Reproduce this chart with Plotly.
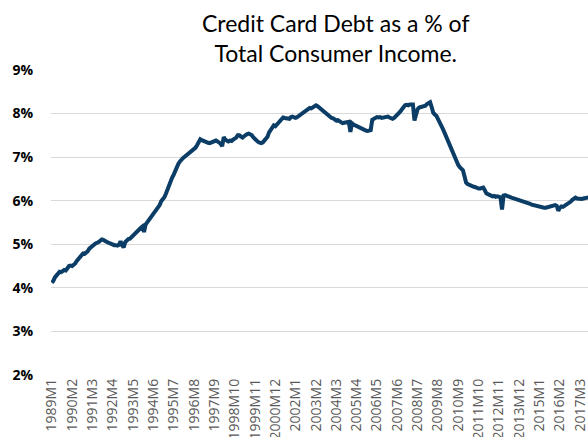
import plotly.graph_objects as go

# Credit card debt as a share of total consumer income, monthly from 1989M1
debt_pct = [
    # 1989
    4.12, 4.16, 4.24, 4.29, 4.33, 4.37, 4.36, 4.39, 4.41, 4.40, 4.46, 4.50,
    # 1990
    4.51, 4.50, 4.53, 4.56, 4.62, 4.67, 4.70, 4.74, 4.79, 4.78, 4.80, 4.84,
    # 1991
    4.90, 4.94, 4.96, 4.99, 5.02, 5.03, 5.05, 5.08, 5.11, 5.10, 5.07, 5.06,
    # 1992
    5.04, 5.02, 5.01, 5.00, 4.98, 4.98, 4.97, 4.99, 5.07, 4.98, 4.93, 5.05,
    # 1993
    5.10, 5.12, 5.13, 5.17, 5.19, 5.22, 5.27, 5.32, 5.35, 5.38, 5.41, 5.28,
    # 1994
    5.45, 5.50, 5.55, 5.62, 5.68, 5.71, 5.76, 5.80, 5.86, 5.90, 5.99, 6.03,
    # 1995
    6.08, 6.16, 6.27, 6.38, 6.45, 6.53, 6.60, 6.70, 6.78, 6.85, 6.90, 6.95,
    # 1996
    6.98, 7.01, 7.04, 7.08, 7.11, 7.14, 7.17, 7.19, 7.22, 7.28, 7.35, 7.41,
    # 1997
    7.39, 7.37, 7.35, 7.34, 7.33, 7.32, 7.34, 7.35, 7.37, 7.38, 7.36, 7.33,
    # 1998
    7.31, 7.25, 7.46, 7.40, 7.37, 7.36, 7.38, 7.37, 7.40, 7.42, 7.45, 7.50,
    # 1999
    7.50, 7.47, 7.45, 7.48, 7.51, 7.53, 7.54, 7.53, 7.50, 7.45, 7.41, 7.38,
    # 2000
    7.35, 7.33, 7.32, 7.34, 7.38, 7.42, 7.47, 7.57, 7.62, 7.68, 7.73, 7.71,
    # 2001
    7.75, 7.78, 7.82, 7.88, 7.91, 7.90, 7.89, 7.87, 7.88, 7.92, 7.93, 7.91,
    # 2002
    7.90, 7.92, 7.95, 7.98, 8.00, 8.02, 8.05, 8.08, 8.10, 8.13, 8.12, 8.15,
    # 2003
    8.17, 8.19, 8.17, 8.14, 8.11, 8.08, 8.06, 8.03, 8.00, 7.96, 7.92, 7.90,
    # 2004
    7.89, 7.86, 7.84, 7.85, 7.82, 7.78, 7.78, 7.79, 7.80, 7.79, 7.81, 7.58,
    # 2005
    7.78, 7.75, 7.73, 7.72, 7.70, 7.69, 7.67, 7.65, 7.63, 7.61, 7.60, 7.60,
    # 2006
    7.62, 7.86, 7.88, 7.90, 7.92, 7.91, 7.92, 7.90, 7.91, 7.93, 7.94, 7.93,
    # 2007
    7.91, 7.90, 7.88, 7.90, 7.93, 7.98, 8.02, 8.05, 8.10, 8.15, 8.19, 8.20,
    # 2008
    8.19, 8.21, 8.20, 8.21, 7.84, 8.00, 8.10, 8.14, 8.15, 8.14, 8.16, 8.18,
    # 2009
    8.22, 8.25, 8.26, 8.15, 8.02, 7.98, 7.95, 7.88, 7.82, 7.74, 7.66, 7.58,
    # 2010
    7.49, 7.40, 7.32, 7.23, 7.15, 7.07, 6.98, 6.90, 6.82, 6.77, 6.74, 6.70,
    # 2011
    6.56, 6.42, 6.38, 6.36, 6.34, 6.33, 6.32, 6.31, 6.29, 6.28, 6.28, 6.29,
    # 2012
    6.30, 6.24, 6.17, 6.15, 6.13, 6.11, 6.10, 6.11, 6.09, 6.10, 6.09, 6.08,
    # 2013
    5.80, 6.12, 6.13, 6.11, 6.10, 6.08, 6.07, 6.06, 6.05, 6.04, 6.03, 6.02,
    # 2014
    6.00, 5.99, 5.98, 5.97, 5.95, 5.94, 5.93, 5.91, 5.90, 5.88, 5.87, 5.86,
    # 2015
    5.85, 5.84, 5.83, 5.84, 5.84, 5.85, 5.86, 5.87, 5.88, 5.89, 5.90, 5.88,
    # 2016
    5.77, 5.84, 5.87, 5.86, 5.88, 5.90, 5.92, 5.95, 5.98, 6.02, 6.05, 6.07,
    # 2017
    6.05, 6.04, 6.03, 6.04, 6.05, 6.06, 6.07, 6.07, 6.08,
]

# Month index from 1989M1
month_index = list(range(len(debt_pct)))

# Category labels shown every 13 months
x_tick_labels = [
    "1989M1", "1990M2", "1991M3", "1992M4", "1993M5", "1994M6", "1995M7",
    "1996M8", "1997M9", "1998M10", "1999M11", "2000M12", "2002M1", "2003M2",
    "2004M3", "2005M4", "2006M5", "2007M6", "2008M7", "2009M8", "2010M9",
    "2011M10", "2012M11", "2013M12", "2015M1", "2016M2", "2017M3",
]
x_tick_positions = [13 * i for i in range(len(x_tick_labels))]

y_tick_values = [2, 3, 4, 5, 6, 7, 8, 9]
y_tick_labels = [f"<b>{v}%</b>" for v in y_tick_values]

fig = go.Figure(
    go.Scatter(
        x=month_index,
        y=debt_pct,
        mode="lines",
        line=dict(color="#0B3D66", width=4),
        hoverinfo="skip",
    )
)

fig.update_layout(
    width=588,
    height=437,
    margin=dict(l=51, r=0, t=70, b=62),
    paper_bgcolor="white",
    plot_bgcolor="white",
    showlegend=False,
    xaxis=dict(
        range=[-0.5, 343],
        tickvals=x_tick_positions,
        ticktext=x_tick_labels,
        tickangle=-90,
        tickfont=dict(family="Open Sans", size=14, color="#595959"),
        ticklabeloverflow="allow",
        showgrid=False,
        zeroline=False,
        showline=False,
        ticks="",
        automargin=False,
    ),
    yaxis=dict(
        range=[2, 9],
        tickvals=y_tick_values,
        ticktext=y_tick_labels,
        tickfont=dict(family="Open Sans", size=14, color="#000000"),
        showgrid=True,
        gridcolor="#D9D9D9",
        gridwidth=1,
        zeroline=False,
        showline=False,
        ticks="outside",
        ticklen=14,
        tickcolor="rgba(0,0,0,0)",
        automargin=False,
    ),
    annotations=[
        dict(
            text="Credit Card Debt as a % of<br>Total Consumer Income.",
            font=dict(family="Lato", size=23, color="#000000"),
            xref="paper",
            x=(335 - 51) / 537,
            xanchor="center",
            yref="paper",
            y=1 + (70 - 38) / 305,
            yanchor="middle",
            showarrow=False,
            align="center",
        )
    ],
)

fig.write_html("out.html")
